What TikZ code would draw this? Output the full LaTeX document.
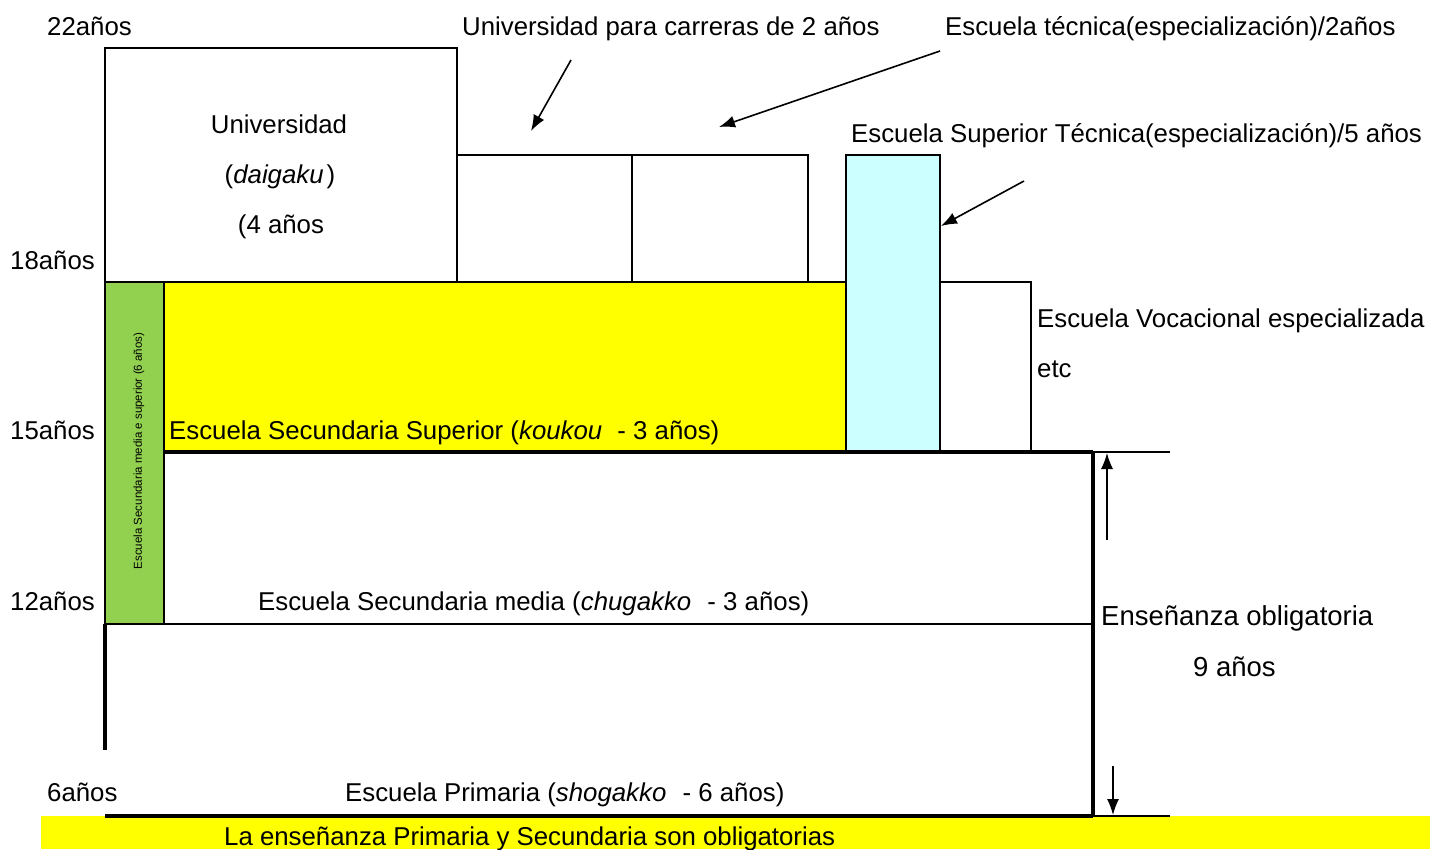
\documentclass[tikz,border=0pt]{standalone}
\usepackage{fontspec}
\usetikzlibrary{arrows.meta}
\setmainfont{Liberation Sans}
\begin{document}
\begin{tikzpicture}[x=1pt,y=-1pt,
  lbl/.style={font=\fontsize{25.8}{30}\selectfont, inner sep=0pt, anchor=base west},
  clbl/.style={font=\fontsize{25.8}{30}\selectfont, inner sep=0pt, anchor=base},
  biglbl/.style={font=\fontsize{27.5}{32}\selectfont, inner sep=0pt, anchor=base west},
  thinbox/.style={draw=black, line width=2pt},
  thickline/.style={draw=black, line width=3.5pt},
  arr/.style={draw=black, line width=1.6pt, -{Latex[length=16pt,width=12pt]}}]
\useasboundingbox (0,0) rectangle (1430,849);
\definecolor{yel}{HTML}{FFFF00}
\definecolor{cyanl}{HTML}{CCFFFF}
\definecolor{grn}{HTML}{92D050}
% bottom yellow band
\fill[yel] (41,816) rectangle (1430,849);
% university
\draw[thinbox] (105,282) -- (105,48) -- (457,48) -- (457,282);
\draw[thinbox] (457,282) -- (457,155) -- (808,155) -- (808,282);
\draw[thinbox] (632,155) -- (632,282);
% yellow upper secondary
\draw[thinbox, fill=yel] (164,282) rectangle (846,452);
% cyan
\draw[thinbox, fill=cyanl] (846,155) rectangle (940,452);
% vocational
\draw[thinbox] (940,282) -- (1031,282) -- (1031,452);
% green
\draw[thinbox, fill=grn] (105,282) rectangle (164,624);
\node[rotate=90, font=\fontsize{11.5}{13}\selectfont, inner sep=0pt] (green) at (139,451) {Escuela Secundaria media e superior (6 años)};
% middle
\draw[thinbox] (105,624) -- (1093,624);
\draw[thickline] (164,452) -- (1093,452);
\draw[thinbox] (1093,452) -- (1170,452);
\draw[thickline] (1093,452) -- (1093,816);
\draw[thickline] (105,624) -- (105,750);
\draw[thickline] (105,816) -- (1093,816);
\draw[thinbox] (1093,816) -- (1170,816);
% compulsory arrows
\coordinate (upS) at (1107,540);
\coordinate (upE) at (1107,453);
\coordinate (dnS) at (1113,766);
\coordinate (dnE) at (1113,815);
\draw[arr, line width=1.2pt] (upS) -- (upE);
\draw[arr, line width=1.4pt] (dnS) -- (dnE);
% diagonal arrows
\coordinate (a1S) at (571,60);
\coordinate (a1E) at (531,131);
\coordinate (a2S) at (940,51);
\coordinate (a2E) at (719,127);
\coordinate (a3S) at (1024,181);
\coordinate (a3E) at (941,226);
\draw[arr] (a1S) -- (a1E);
\draw[arr] (a2S) -- (a2E);
\draw[arr] (a3S) -- (a3E);
% labels
\node[lbl] (l22) at (47,35) {22años};
\node[lbl] (ltwo) at (462,35) {Universidad para carreras de 2 años};
\node[lbl] (ltec) at (945,35) {Escuela técnica(especialización)/2años};
\node[clbl] (luni) at (279,133) {Universidad};
\node[clbl] (ldai) at (280,183) {(\textit{daigaku}\hspace{3pt})};
\node[clbl] (l4) at (281,233) {(4 años};
\node[lbl] (lsup) at (851,142) {Escuela Superior Técnica(especialización)/5 años};
\node[lbl] (l18) at (10,269) {18años};
\node[lbl] (lvoc) at (1037,327) {Escuela Vocacional especializada};
\node[lbl] (letc) at (1037,377) {etc};
\node[lbl] (l15) at (10,439) {15años};
\node[lbl] (lkou) at (169,439) {Escuela Secundaria Superior (\textit{koukou}\hspace{8pt} - 3 años)};
\node[lbl] (l12) at (10,610) {12años};
\node[lbl] (lchu) at (258,610) {Escuela Secundaria media (\textit{chugakko}\hspace{9pt} - 3 años)};
\node[biglbl] (lens) at (1101,625) {Enseñanza obligatoria};
\node[biglbl] (l9) at (1193,676) {9 años};
\node[lbl] (l6) at (47,801) {6años};
\node[lbl] (lpri) at (345,801) {Escuela Primaria (\textit{shogakko}\hspace{9pt} - 6 años)};
\node[lbl] (lbot) at (224,845) {La enseñanza Primaria y Secundaria son obligatorias};
\end{tikzpicture}
\end{document}
